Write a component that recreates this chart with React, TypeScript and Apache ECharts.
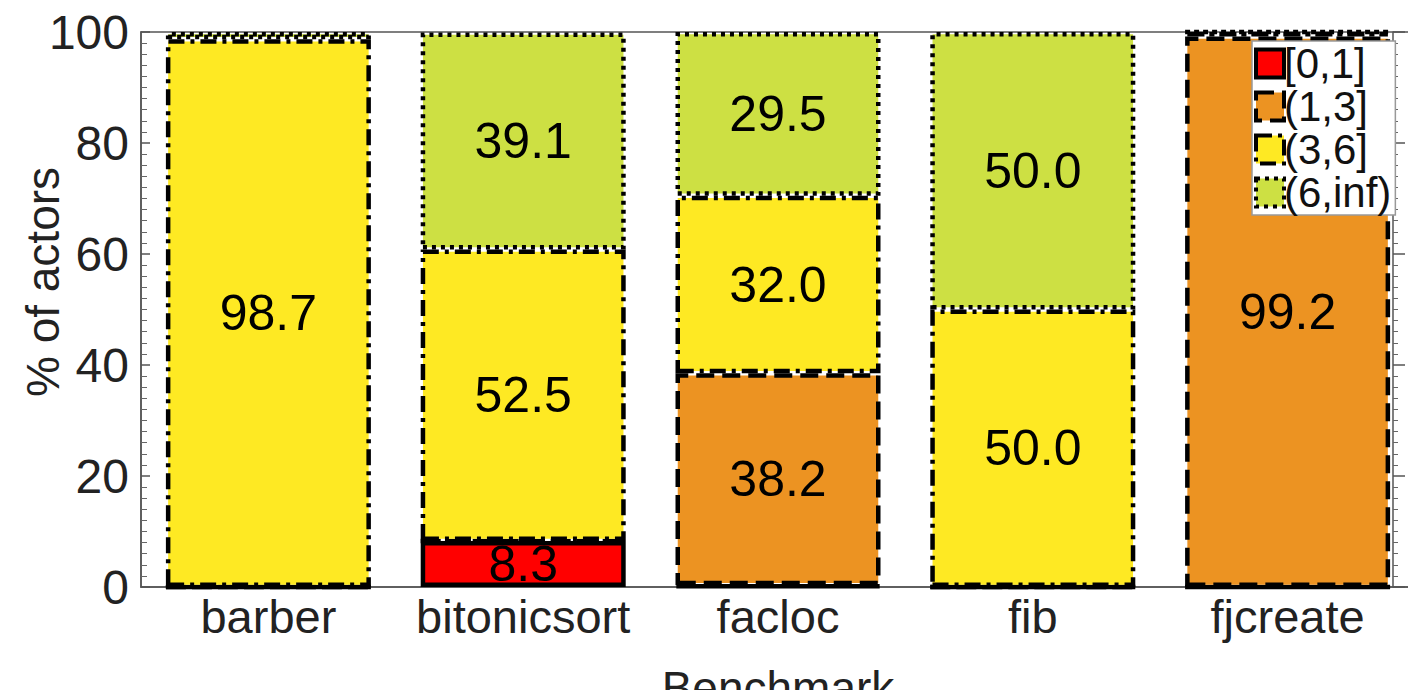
import React, { useEffect, useRef } from "react";
import * as echarts from "echarts";

const categories = ["barber", "bitonicsort", "facloc", "fib", "fjcreate"];
const seriesNames = ["[0,1]", "(1,3]", "(3,6]", "(6,inf)"];
const s01 = [0, 8.3, 0.3, 0, 0];
const s13 = [0, 0, 38.2, 0, 99.2];
const s36 = [98.7, 52.5, 32.0, 50.0, 0.8];
const s6inf = [1.3, 39.1, 29.5, 50.0, 0];
const yTicks = [0, 20, 40, 60, 80, 100];

const colors = ["#FF0000", "#EC9322", "#FEE923", "#CDE043"];
const borderTypes: any[] = ["solid", [18, 8], [16, 6, 4, 6], [4, 5]];

const FONT = "Liberation Sans, Arial, Helvetica, sans-serif";

export default function App() {
  const ref = useRef<HTMLDivElement>(null);
  useEffect(() => {
    if (!ref.current) return;
    const chart = echarts.init(ref.current, undefined, { renderer: "svg" });
    const data = [s01, s13, s36, s6inf];
    const option: any = {
      animation: false,
      textStyle: { fontFamily: FONT },
      grid: {
        left: 141,
        top: 32,
        width: 1274,
        height: 555,
        show: true,
        borderColor: "#555",
        borderWidth: 1.5,
        backgroundColor: "transparent",
        containLabel: false,
        outerBoundsMode: "none",
      },
      legend: {
        orient: "vertical",
        left: 1252,
        top: 41,
        padding: [1, 4, 1, 2],
        itemWidth: 28,
        itemHeight: 28,
        itemGap: 0,
        backgroundColor: "#fff",
        borderColor: "#999",
        borderWidth: 1.5,
        borderRadius: 0,
        textStyle: {
          fontSize: 42,
          lineHeight: 43,
          color: "#111",
          fontFamily: FONT,
          padding: [0, 0, 0, -5],
        },
        data: seriesNames.map((n, i) => ({
          name: n,
          icon: "rect",
          itemStyle: {
            color: colors[i],
            borderColor: "#000",
            borderWidth: 4,
            borderType: borderTypes[i],
          },
        })),
      },
      xAxis: {
        type: "category",
        data: categories,
        axisLine: { show: true, lineStyle: { color: "#555", width: 1.5 } },
        axisTick: { show: false },
        axisLabel: {
          fontSize: 47,
          color: "#222",
          margin: 6,
          fontFamily: FONT,
          interval: 0,
          hideOverlap: false,
        },
        name: "Benchmark",
        nameLocation: "middle",
        nameGap: 78,
        nameMoveOverlap: false,
        nameTextStyle: { fontSize: 46, color: "#222", fontFamily: FONT },
      },
      yAxis: [
        {
          type: "value",
          min: 0,
          max: 100,
          interval: 20,
          axisLine: { show: true, lineStyle: { color: "#555", width: 1.5 } },
          axisTick: { show: true, inside: true, length: 9, lineStyle: { color: "#555", width: 1.5 } },
          minorTick: { show: true, splitNumber: 10, length: 6, lineStyle: { color: "#666", width: 1 } },
          splitLine: { show: false },
          axisLabel: {
            fontSize: 48,
            color: "#222",
            margin: 12,
            fontFamily: FONT,
            formatter: (v: number) => (yTicks.includes(v) ? String(v) : ""),
          },
        },
        {
          type: "value",
          position: "right",
          offset: -22,
          min: 0,
          max: 100,
          interval: 20,
          axisLine: { show: true, lineStyle: { color: "#555", width: 1.5 } },
          axisTick: { show: true, inside: false, length: 12, lineStyle: { color: "#555", width: 1.5 } },
          minorTick: { show: true, splitNumber: 10, length: 5, lineStyle: { color: "#666", width: 1 } },
          splitLine: { show: false },
          axisLabel: { show: false },
        },
      ],
      graphic: [
        {
          type: "text",
          x: 43,
          y: 282,
          rotation: Math.PI / 2,
          style: {
            text: "% of actors",
            fontSize: 46,
            fill: "#222",
            fontFamily: FONT,
            align: "center",
            verticalAlign: "middle",
          },
        },
      ],
      series: seriesNames.map((name, i) => ({
        name,
        type: "bar",
        stack: "total",
        barWidth: 205,
        data: data[i],
        itemStyle: {
          color: colors[i],
          borderColor: "#000",
          borderWidth: 4.5,
          borderType: borderTypes[i],
        },
        label: {
          show: true,
          position: "inside",
          fontSize: 50,
          color: "#000",
          fontFamily: FONT,
          formatter: (p: any) => (p.value > 5 ? p.value.toFixed(1) : ""),
        },
      })),
    };
    chart.setOption(option);
    return () => chart.dispose();
  }, []);
  return (
    <div
      ref={ref}
      style={{ position: "fixed", left: 0, top: 0, width: 1408, height: 690, background: "#fff" }}
    />
  );
}
